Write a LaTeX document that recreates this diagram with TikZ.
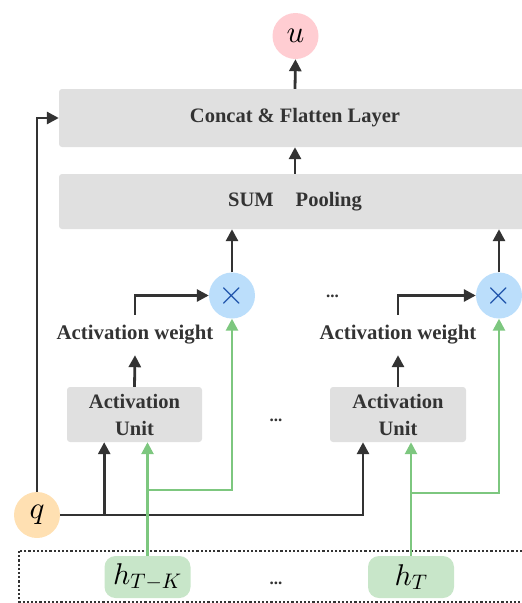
\documentclass[tikz,border=0pt]{standalone}
\DeclareFontShape{OML}{cmm}{m}{it}{<-8>cmmi7 <8->cmmi10}{}
\DeclareFontShape{OMS}{cmsy}{m}{n}{<-8>cmsy7 <8->cmsy10}{}
\DeclareFontShape{OT1}{cmr}{m}{n}{<-8>cmr7 <8->cmr10}{}
\usepackage{fontspec}
\setmainfont{Liberation Serif}
\usetikzlibrary{arrows.meta,calc}
\definecolor{dark}{HTML}{333333}
\definecolor{boxgray}{HTML}{E0E0E0}
\definecolor{pinkc}{HTML}{FFCDD2}
\definecolor{bluec}{HTML}{BBDEFB}
\definecolor{crossc}{HTML}{1A4FA8}
\definecolor{orangec}{HTML}{FFE0B2}
\definecolor{greenf}{HTML}{C8E6C9}
\definecolor{greenl}{HTML}{7DC77F}
\tikzset{
  graybox/.style={fill=boxgray, rounded corners=3pt, inner sep=0pt, font=\fontsize{20.5}{24}\selectfont\bfseries, text=dark, align=center},
  circ/.style={circle, minimum size=46pt, inner sep=0pt, font=\fontsize{31}{33}\selectfont},
  lbl/.style={inner sep=0pt, font=\fontsize{20.8}{24}\selectfont\bfseries, text=dark},
  arr/.style={line width=2.8pt, draw=dark, -{Triangle[length=12pt,width=12pt]}},
  garr/.style={line width=2.6pt, draw=greenl, -{Triangle[length=12pt,width=12pt]}},
  hbox/.style={fill=greenf, rounded corners=11pt, minimum width=86pt, minimum height=42pt, inner sep=0pt, font=\fontsize{30}{33}\selectfont},
  dots/.style={inner sep=0pt, font=\fontsize{17}{18}\selectfont\bfseries, text=dark}
}
\begin{document}
\begin{tikzpicture}[x=1pt,y=-1pt]
\useasboundingbox (0,0) rectangle (522,603);
\clip (0,0) rectangle (522,603);
% dotted frame
\draw[dark, line width=2.2pt, dotted] (19,551) rectangle (545,602);
% nodes
\node[circ, fill=pinkc] (u) at (295.5,36) {$u$};
\node[graybox, minimum width=472pt, minimum height=58pt] (concat) at (295,118) {Concat \& Flatten Layer};
\node[graybox, minimum width=472pt, minimum height=55pt] (sum) at (295,201.5) {SUM\hspace{22pt}Pooling};
\node[circ, fill=bluec, text=crossc, font=\fontsize{34}{34}\selectfont] (x1) at (232,295.5) {$\times$};
\node[circ, fill=bluec, text=crossc, font=\fontsize{34}{34}\selectfont] (x2) at (499,295.5) {$\times$};
\node[lbl, minimum height=40pt] (aw1) at (135,335) {Activation weight};
\node[lbl, minimum height=40pt] (aw2) at (398,335) {Activation weight};
\node[graybox, minimum width=135pt, minimum height=55pt, font=\fontsize{20.5}{27}\selectfont\bfseries] (unit1) at (134.5,414.5) {Activation\\Unit};
\node[graybox, minimum width=136pt, minimum height=55pt, font=\fontsize{20.5}{27}\selectfont\bfseries] (unit2) at (398,414.5) {Activation\\Unit};
\node[circ, fill=orangec] (q) at (37,515) {$q$};
\node[hbox] (hTK) at (147.5,577) {$h_{T-K}$};
\node[hbox] (hT) at (411,577) {$h_{T}$};
\node[dots] (d1) at (332.5,296) {...};
\node[dots] (d2) at (276,420) {...};
\node[dots] (d3) at (276,583) {...};
% black connectors
\draw[arr] (concat.north) -- (u.south);
\draw[arr] (sum.north) -- (concat.south);
\draw[arr] (x1.north) -- (x1.north |- sum.south);
\draw[arr] (x2.north) -- (x2.north |- sum.south);
\draw[arr] (aw1.north) |- (x1.west);
\draw[arr] (aw2.north) |- (x2.west);
\draw[arr] (unit1.north) -- (aw1.south);
\draw[arr] (unit2.north) -- (aw2.south);
\draw[arr] (q.north) |- (concat.west);
\coordinate (qb2) at ($(unit2.south)+(-35,0)$);
\draw[arr] (q.east) -| (qb2);
\coordinate (qb1) at ($(q.east)+(44,0)$);
\draw[arr] (qb1) -- (qb1 |- unit1.south);
% green connectors
\draw[garr] (hTK.north) -- (hTK.north |- unit1.south);
\draw[garr] (hT.north) -- (hT.north |- unit2.south);
\coordinate (g1) at ($(hTK.north)+(0,-66)$);
\coordinate (g2) at ($(hT.north)+(0,-63)$);
\draw[garr] (g1) -| (x1.south);
\draw[garr] (g2) -| (x2.south);
\end{tikzpicture}
\end{document}
